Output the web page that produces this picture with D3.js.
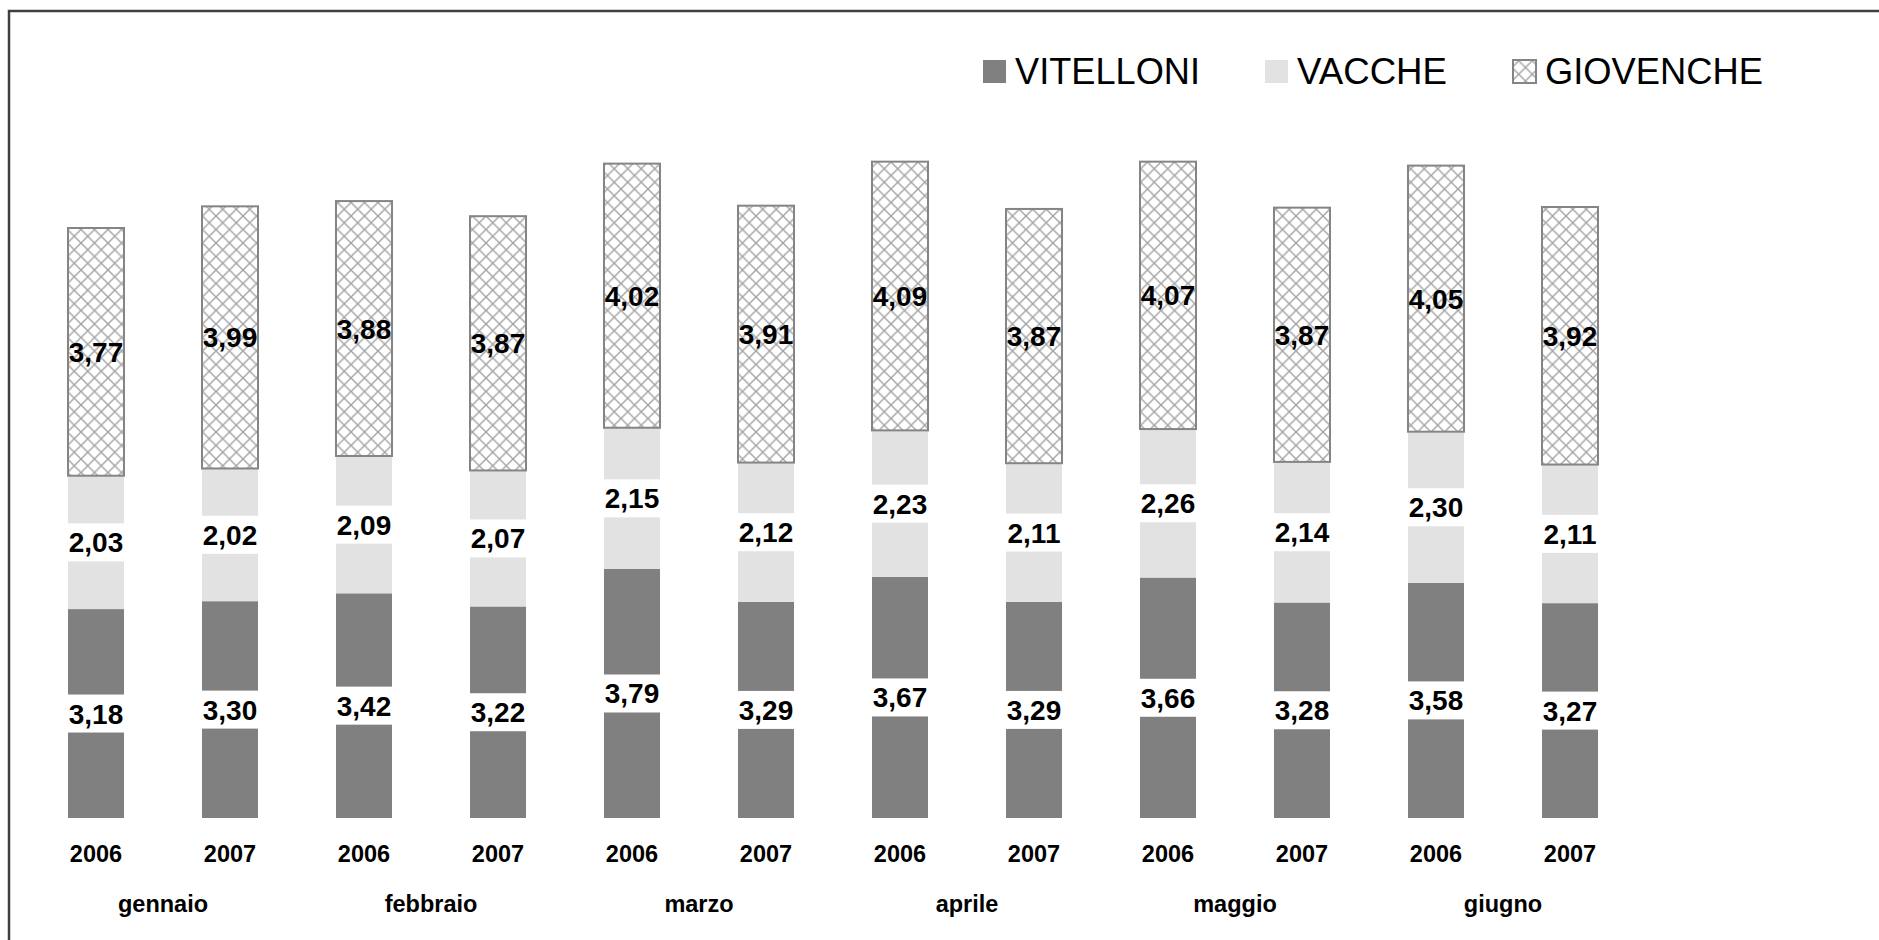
<!DOCTYPE html>
<html>
<head>
<meta charset="utf-8">
<script src="https://cdn.jsdelivr.net/npm/d3@7"></script>
<style>
  body { margin: 0; background: #fff; }
  svg { display: block; font-family: "Liberation Sans", Arial, sans-serif; }
</style>
</head>
<body>
<div id="container"></div>
<script>
// data
let months = ["gennaio", "febbraio", "marzo", "aprile", "maggio", "giugno"];
let years = ["2006", "2007"];
let seriesNames = ["VITELLONI", "VACCHE", "GIOVENCHE"];
let vitelloni = [3.18, 3.30, 3.42, 3.22, 3.79, 3.29, 3.67, 3.29, 3.66, 3.28, 3.58, 3.27];
let vacche    = [2.03, 2.02, 2.09, 2.07, 2.15, 2.12, 2.23, 2.11, 2.26, 2.14, 2.30, 2.11];
let giovenche = [3.77, 3.99, 3.88, 3.87, 4.02, 3.91, 4.09, 3.87, 4.07, 3.87, 4.05, 3.92];

let w = 1879;
let h = 940;
let baseY = 818;

let viz = d3.select("#container")
  .append("svg")
    .attr("width", w)
    .attr("height", h)
;

// hatch pattern for giovenche
let defs = viz.append("defs");
let pat = defs.append("pattern")
    .attr("id", "hatch")
    .attr("patternUnits", "userSpaceOnUse")
    .attr("width", 13.5)
    .attr("height", 13.5);
pat.append("rect").attr("width", 13.5).attr("height", 13.5).attr("fill", "#fff");
pat.append("path")
    .attr("d", "M0,0L13.5,13.5M13.5,0L0,13.5")
    .attr("stroke", "#a3a3a3")
    .attr("stroke-width", 1.4);

// outer frame
viz.append("rect")
    .attr("x", 9).attr("y", 11)
    .attr("width", w + 20).attr("height", h + 20)
    .attr("fill", "none")
    .attr("stroke", "#404040")
    .attr("stroke-width", 2.5);

// one entry per bar
let rows = [];
months.forEach(function(m, mi){
  years.forEach(function(y, yi){
    let i = mi * 2 + yi;
    rows.push({key: m + "-" + y, month: m, year: y,
      VITELLONI: vitelloni[i], VACCHE: vacche[i], GIOVENCHE: giovenche[i]});
  });
});

let xScale = d3.scaleBand()
    .domain(rows.map(function(d){ return d.key; }))
    .range([68, 1598])
    .paddingInner(0.582)
    .paddingOuter(0)
    .align(0);

let yScale = d3.scaleLinear().domain([0, 10]).range([baseY, baseY - 657]);

let colors = {VITELLONI: "#808080", VACCHE: "#e2e2e2", GIOVENCHE: "url(#hatch)"};

let stack = d3.stack().keys(seriesNames);
let stacked = stack(rows);

let graphGroup = viz.append("g").attr("class", "graphGroup");

stacked.forEach(function(layer){
  let name = layer.key;
  graphGroup.selectAll(".bar-" + name).data(layer).enter()
    .append("rect")
      .attr("class", "bar-" + name)
      .attr("x", function(d){ return xScale(d.data.key); })
      .attr("y", function(d){ return yScale(d[1]); })
      .attr("width", xScale.bandwidth())
      .attr("height", function(d){ return yScale(d[0]) - yScale(d[1]); })
      .attr("fill", colors[name])
      .attr("stroke", name == "GIOVENCHE" ? "#858585" : "none")
      .attr("stroke-width", 2)
  ;
});

// value labels
let fmt = function(v){ return d3.format(".2f")(v).replace(".", ","); };
stacked.forEach(function(layer){
  let name = layer.key;
  let lg = graphGroup.append("g").attr("class", "labels-" + name);
  if (name != "GIOVENCHE") {
    lg.selectAll("rect").data(layer).enter()
      .append("rect")
        .attr("x", function(d){ return xScale(d.data.key) - 1; })
        .attr("y", function(d){ return (yScale(d[0]) + yScale(d[1])) / 2 - 19; })
        .attr("width", xScale.bandwidth() + 2)
        .attr("height", 38)
        .attr("fill", "#fff");
  }
  lg.selectAll("text").data(layer).enter()
    .append("text")
      .attr("x", function(d){ return xScale(d.data.key) + xScale.bandwidth() / 2; })
      .attr("y", function(d){ return (yScale(d[0]) + yScale(d[1])) / 2 + 10; })
      .attr("text-anchor", "middle")
      .attr("font-size", 28)
      .attr("font-weight", "bold")
      .attr("fill", "#000")
      .text(function(d){ return fmt(d[1] - d[0]); });
});

// x axis: years and months
let axisGroup = viz.append("g").attr("class", "xaxisgroup");
axisGroup.selectAll(".year").data(rows).enter()
  .append("text")
    .attr("class", "year")
    .attr("x", function(d){ return xScale(d.key) + xScale.bandwidth() / 2; })
    .attr("y", 862)
    .attr("text-anchor", "middle")
    .attr("font-size", 23.5)
    .attr("font-weight", "bold")
    .text(function(d){ return d.year; });

axisGroup.selectAll(".month").data(months).enter()
  .append("text")
    .attr("class", "month")
    .attr("x", function(m){
      let a = xScale(m + "-2006"), b = xScale(m + "-2007");
      return (a + b + xScale.bandwidth()) / 2;
    })
    .attr("y", 912)
    .attr("text-anchor", "middle")
    .attr("font-size", 23.5)
    .attr("font-weight", "bold")
    .text(function(m){ return m; });

// legend
let legendX = [982, 1264, 1512];
let legendW = [185, 150, 218];
let legend = viz.append("g").attr("class", "legend");
seriesNames.forEach(function(name, i){
  legend.append("rect")
    .attr("x", legendX[i] + 1).attr("y", 60)
    .attr("width", 23).attr("height", 23)
    .attr("fill", colors[name])
    .attr("stroke", name == "GIOVENCHE" ? "#858585" : "none")
    .attr("stroke-width", 2);
  legend.append("text")
    .attr("x", legendX[i] + 33)
    .attr("y", 84)
    .attr("font-size", 37)
    .attr("textLength", legendW[i])
    .attr("lengthAdjust", "spacingAndGlyphs")
    .text(name);
});
</script>
</body>
</html>
